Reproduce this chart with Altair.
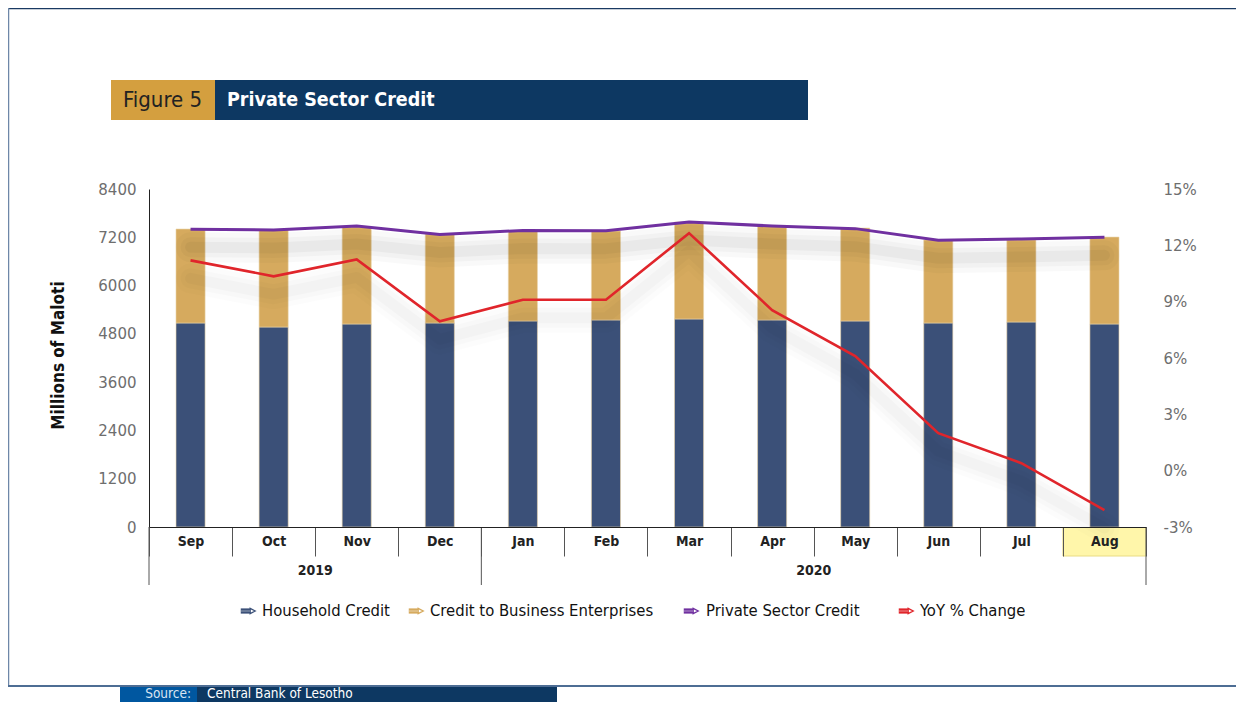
import altair as alt
import pandas as pd

# ---------------- data ----------------
months = ["Sep", "Oct", "Nov", "Dec", "Jan", "Feb", "Mar", "Apr", "May", "Jun", "Jul", "Aug"]
household = [5070, 4970, 5045, 5070, 5120, 5145, 5170, 5145, 5120, 5070, 5095, 5045]
business = [2335, 2410, 2410, 2210, 2235, 2210, 2410, 2335, 2310, 2065, 2040, 2160]
private_sector = [7400, 7380, 7480, 7270, 7370, 7365, 7580, 7480, 7415, 7125, 7160, 7200]
yoy_change = [11.2, 10.35, 11.25, 7.95, 9.1, 9.1, 12.65, 8.55, 6.1, 2.0, 0.4, -2.1]

series_names = ["Household Credit", "Credit to Business Enterprises",
                "Private Sector Credit", "YoY % Change"]
series_colors = ["#3B5078", "#D6AA5E", "#7030A0", "#E0252B"]

year_labels = ["2019", "2020"]
year_label_month = ["Nov", "May"]      # year label centred at start of this month
group_start = ["Sep", "Jan"]
group_end = ["Aug"]
highlight_months = ["Aug"]

left_ticks = [0, 1200, 2400, 3600, 4800, 6000, 7200, 8400]
right_ticks = [-3, 0, 3, 6, 9, 12, 15]

title_label = "Figure 5"
title_text = "Private Sector Credit"
y_title = "Millions of Maloti"
source_label = "Source:"
source_text = "Central Bank of Lesotho"

# ---------------- styles ----------------
W, H = 997, 338
FONT = "Liberation Sans Narrow, DejaVu Sans Condensed, Roboto Condensed, Noto Sans, sans-serif"
NUM_FONT = "DejaVu Sans, Verdana, sans-serif"
NAVY = "#0D3862"
GOLD = "#D49F3F"

bars_df = pd.DataFrame({
    "month": months * 2,
    "series": [series_names[0]] * len(months) + [series_names[1]] * len(months),
    "value": household + business,
    "order": [0] * len(months) + [1] * len(months),
})
lines_df = pd.DataFrame({"month": months, "psc": private_sector, "yoy": yoy_change})
one = pd.DataFrame({"k": [0]})

xscale = alt.Scale(domain=months, paddingInner=0, paddingOuter=0)
xaxis = alt.Axis(title=None, labelAngle=0, tickBand="extent", tickSize=29,
                 tickColor="#555555", domainColor="#222222", labelFont=FONT,
                 labelFontSize=14, labelFontWeight="bold", labelColor="#222222",
                 labelBaseline="middle", labelPadding=-15, zindex=1, grid=False)


def X(**kw):
    return alt.X("month:N", scale=xscale, axis=xaxis, **kw)


yl_scale = alt.Scale(domain=[0, 8400], nice=False)
yr_scale = alt.Scale(domain=[-3, 15], nice=False)

yl_axis = alt.Axis(title=y_title, values=left_ticks, format="d", ticks=False, grid=False,
                   domainColor="#222222", labelFont=NUM_FONT, labelFontSize=15,
                   labelColor="#6E6E6E", labelPadding=13, titleFont=FONT,
                   titleFontSize=17, titleFontWeight="bold", titleColor="#111111",
                   titleX=-91, titleY=166, titleAngle=270, titleAlign="center",
                   titleBaseline="middle")
yr_axis = alt.Axis(title=None, orient="right", values=right_ticks, ticks=False,
                   grid=False, domain=False, labelFont=NUM_FONT, labelFontSize=15,
                   labelColor="#6E6E6E", labelPadding=17, labelAlign="left",
                   labelExpr="datum.value + '%'")

# ---------------- left group ----------------
bars = alt.Chart(bars_df).mark_bar(width={"band": 0.35}, stroke="#E9D3A8",
                                   strokeWidth=0.6).encode(
    x=X(),
    y=alt.Y("value:Q", stack="zero", scale=yl_scale, axis=yl_axis),
    color=alt.Color("series:N", scale=alt.Scale(domain=series_names[:2],
                                                range=series_colors[:2]), legend=None),
    order=alt.Order("order:Q"),
)


def shadows(field, scale, axis, off, strength):
    out = []
    for w, o in [(30, 0.022), (20, 0.028), (11, 0.035)]:
        out.append(alt.Chart(lines_df).mark_line(yOffset=off, strokeWidth=w, color="#000000",
                                                 opacity=o * strength, strokeCap="round",
                                                 strokeJoin="round").encode(
            x=X(), y=alt.Y(f"{field}:Q", scale=scale, axis=axis)))
    return out


psc_line = alt.Chart(lines_df).mark_line(color=series_colors[2], strokeWidth=3).encode(
    x=X(), y=alt.Y("psc:Q", scale=yl_scale, axis=yl_axis))

left = alt.layer(bars, *shadows("psc", yl_scale, yl_axis, 18, 1.0), psc_line)

# ---------------- right group ----------------
yoy_line = alt.Chart(lines_df).mark_line(color=series_colors[3], strokeWidth=2.6).encode(
    x=X(), y=alt.Y("yoy:Q", scale=yr_scale, axis=yr_axis))
right = alt.layer(*shadows("yoy", yr_scale, yr_axis, 18, 0.6), yoy_line)

# ---------------- category table under axis ----------------
hl = alt.Chart(pd.DataFrame({"month": highlight_months})).mark_rect(
    fill="#FFF6AA", stroke="#E9DC84", strokeWidth=1).encode(
    x=X(), y=alt.value(H + 0.5), y2=alt.value(H + 29))

sep_start = alt.Chart(pd.DataFrame({"month": group_start})).mark_rule(
    color="#555555", strokeWidth=1).encode(
    x=X(bandPosition=0), y=alt.value(H), y2=alt.value(H + 58))
sep_end = alt.Chart(pd.DataFrame({"month": group_end})).mark_rule(
    color="#555555", strokeWidth=1).encode(
    x=X(bandPosition=1), y=alt.value(H), y2=alt.value(H + 58))

years_txt = alt.Chart(pd.DataFrame({"month": year_label_month, "year": year_labels})).mark_text(
    font=FONT, fontSize=14, fontWeight="bold", color="#222222", baseline="middle").encode(
    x=X(bandPosition=0), y=alt.value(H + 44), text="year:N")

# ---------------- decorations ----------------
def rect(x, x2, y, y2, color):
    return alt.Chart(one).mark_rect(color=color).encode(
        x=alt.value(x), x2=alt.value(x2), y=alt.value(y), y2=alt.value(y2))


def text(t, x, y, size, color, weight="normal", align="left"):
    return alt.Chart(one).mark_text(text=t, font=FONT, fontSize=size, color=color,
                                    fontWeight=weight, align=align,
                                    baseline="middle").encode(
        x=alt.value(x), y=alt.value(y))


def hline(x, x2, y, color, w):
    return alt.Chart(one).mark_rule(color=color, strokeWidth=w).encode(
        x=alt.value(x), x2=alt.value(x2), y=alt.value(y))


def vline(x, y, y2, color, w):
    return alt.Chart(one).mark_rule(color=color, strokeWidth=w).encode(
        x=alt.value(x), y=alt.value(y), y2=alt.value(y2))


deco = [
    hline(-141, 1091, -180.5, "#1A3A62", 1.5),
    vline(-140.5, -181, 497, "#6E87A8", 1.5),
    hline(-141, 1091, 497, "#4D6D94", 2),
    rect(-38, 66, -109, -69, GOLD),
    rect(66, 659, -109, -69, NAVY),
    text(title_label, -26, -89, 22, "#222222"),
    text(title_text, 78, -89, 19.5, "#FFFFFF", weight="bold"),
    rect(-29, 48, 498, 521, "#0057A0"),
    rect(48, 408, 498, 521, NAVY),
    text(source_label, 42, 504.5, 13.5, "#D8E4F2", align="right"),
    text(source_text, 58, 504.5, 13.5, "#FFFFFF"),
]

# legend
icon_x = [99, 267, 542, 757]
label_x = [113, 281, 557, 771]
LY = 422
body = "M-1,-0.36 L0.3,-0.36 L0.3,0.36 L-1,0.36 Z"
tip = "M0.3,-0.36 L1,0 L0.3,0.36 Z"
stripe = "M-1,0 L0.3,0"
legend = []
for name, col, ix, tx in zip(series_names, series_colors, icon_x, label_x):
    legend.append(alt.Chart(one).mark_point(shape=body, filled=True, color=col, size=210,
                                            opacity=1).encode(x=alt.value(ix), y=alt.value(LY)))
    legend.append(alt.Chart(one).mark_point(shape=tip, filled=False, color=col, size=210,
                                            strokeWidth=1.3, opacity=1).encode(
        x=alt.value(ix), y=alt.value(LY)))
    legend.append(alt.Chart(one).mark_point(shape=stripe, filled=False, color="#FFFFFF",
                                            size=210, strokeWidth=0.8, opacity=0.6).encode(
        x=alt.value(ix), y=alt.value(LY)))
    legend.append(text(name, tx, LY, 16.5, "#111111"))

chart = alt.layer(
    hl, left, right, sep_start, sep_end, years_txt, *deco, *legend
).resolve_scale(y="independent").properties(
    width=W, height=H,
    padding={"left": 141, "top": 181, "right": 90, "bottom": 175},
    autosize=alt.AutoSizeParams(type="none"),
    background="#FFFFFF",
).configure_view(stroke=None)

chart.save("out.html", embed_options={"renderer": "svg", "actions": False})
